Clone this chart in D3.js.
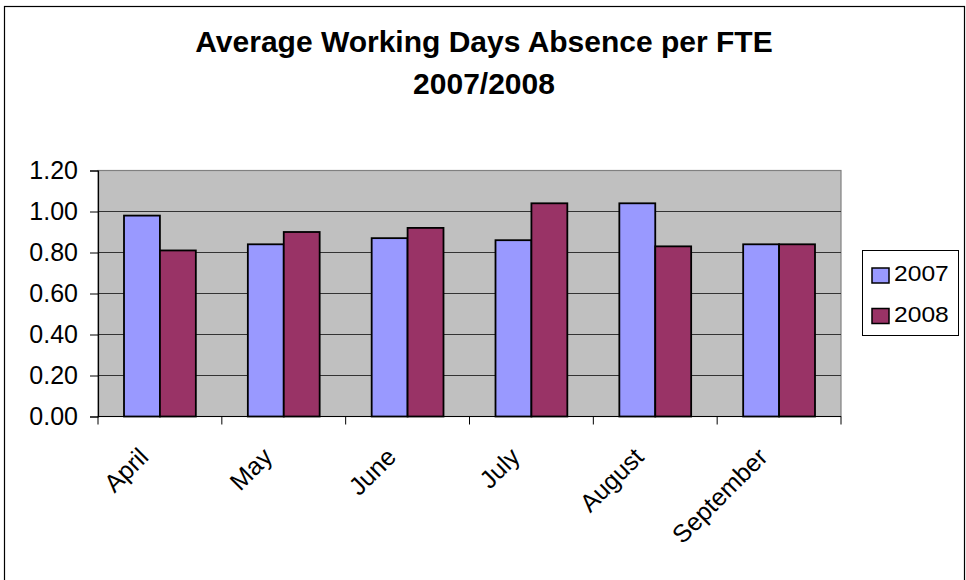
<!DOCTYPE html>
<html>
<head>
<meta charset="utf-8">
<script src="https://cdn.jsdelivr.net/npm/d3@7"></script>
<style>
  body { margin: 0; background: #fff; }
  svg text { font-family: Arial, "Liberation Sans", sans-serif; fill: #000; }
</style>
</head>
<body>
<div id="chart"></div>
<script>
// Data
const months = ['April', 'May', 'June', 'July', 'August', 'September'];
const years = ['2007', '2008'];
const values2007 = [0.98, 0.84, 0.87, 0.86, 1.04, 0.84];
const values2008 = [0.81, 0.90, 0.92, 1.04, 0.83, 0.84];
const yTicks = [0, 0.2, 0.4, 0.6, 0.8, 1.0, 1.2];

const colors = {'2007': '#9999ff', '2008': '#993366'};

const W = 966, H = 580;
const plot = {left: 98, right: 841, top: 170.5, bottom: 416.5};

const svg = d3.select('#chart').append('svg')
    .attr('width', W)
    .attr('height', H);

// Outer chart border
svg.append('rect')
    .attr('x', 4.5).attr('y', 6.5)
    .attr('width', 960).attr('height', 600)
    .attr('fill', '#fff')
    .attr('stroke', '#000')
    .attr('stroke-width', 1.2);

// Title
const title = svg.append('text')
    .attr('text-anchor', 'middle')
    .attr('font-weight', 'bold')
    .attr('font-size', 30);
title.append('tspan').attr('x', 484).attr('y', 52).text('Average Working Days Absence per FTE');
title.append('tspan').attr('x', 484).attr('y', 94).text('2007/2008');

const x0 = d3.scaleBand()
    .domain(months)
    .range([plot.left, plot.right]);

const x1 = d3.scaleBand()
    .domain(years)
    .range([x0.bandwidth() * 0.21, x0.bandwidth() * 0.79]);

const y = d3.scaleLinear()
    .domain([0, 1.2])
    .range([plot.bottom, plot.top]);

// Plot area
svg.append('rect')
    .attr('x', plot.left).attr('y', plot.top)
    .attr('width', plot.right - plot.left)
    .attr('height', plot.bottom - plot.top)
    .attr('fill', '#c0c0c0')
    .attr('stroke', '#808080')
    .attr('stroke-width', 1.2);

// Gridlines
svg.append('g')
  .selectAll('line')
  .data(yTicks.slice(1, -1))
  .join('line')
    .attr('x1', plot.left).attr('x2', plot.right)
    .attr('y1', d => y(d)).attr('y2', d => y(d))
    .attr('stroke', '#333')
    .attr('stroke-width', 1.2);

// Bars
const series = [values2007, values2008];
const groups = svg.append('g')
  .selectAll('g')
  .data(months)
  .join('g')
    .attr('transform', d => `translate(${x0(d)},0)`);

groups.selectAll('rect')
  .data((m, i) => years.map((yr, j) => ({year: yr, value: series[j][i]})))
  .join('rect')
    .attr('x', d => x1(d.year))
    .attr('width', x1.bandwidth())
    .attr('y', d => y(d.value))
    .attr('height', d => y(0) - y(d.value))
    .attr('fill', d => colors[d.year])
    .attr('stroke', '#000')
    .attr('stroke-width', 1.8);

// Y axis
const yAxis = svg.append('g')
    .attr('transform', `translate(${plot.left},0)`)
    .call(d3.axisLeft(y)
        .tickValues(yTicks)
        .tickFormat(d3.format('.2f'))
        .tickSize(8)
        .tickPadding(12));
yAxis.select('.domain').attr('stroke', '#000').attr('stroke-width', 1.2);
yAxis.selectAll('.tick line').attr('stroke', '#000');
yAxis.selectAll('text')
    .attr('font-size', 25)
    .attr('font-family', 'Arial, "Liberation Sans", sans-serif');

// X axis: baseline and ticks at band edges
const xAxis = svg.append('g');
xAxis.append('line')
    .attr('x1', plot.left).attr('x2', plot.right)
    .attr('y1', plot.bottom).attr('y2', plot.bottom)
    .attr('stroke', '#000')
    .attr('stroke-width', 1.2);
const edges = months.map(m => x0(m)).concat([plot.right]);
xAxis.selectAll('line.tick')
  .data(edges)
  .join('line')
    .attr('class', 'tick')
    .attr('x1', d => d).attr('x2', d => d)
    .attr('y1', plot.bottom).attr('y2', plot.bottom + 8)
    .attr('stroke', '#000');

xAxis.selectAll('text')
  .data(months)
  .join('text')
    .attr('transform', d => `translate(${x0(d) + x0.bandwidth() / 2 - 10},${plot.bottom + 42}) rotate(-45)`)
    .attr('text-anchor', 'end')
    .attr('font-size', 25)
    .text(d => d);

// Legend
const legend = svg.append('g');
legend.append('rect')
    .attr('x', 862.5).attr('y', 250.5)
    .attr('width', 96).attr('height', 85)
    .attr('fill', '#fff')
    .attr('stroke', '#000')
    .attr('stroke-width', 1);
const item = legend.selectAll('g')
  .data(years)
  .join('g')
    .attr('transform', (d, i) => `translate(872,${268 + i * 40.5})`);
item.append('rect')
    .attr('width', 17).attr('height', 15)
    .attr('fill', d => colors[d])
    .attr('stroke', '#000')
    .attr('stroke-width', 1.5);
item.append('text')
    .attr('transform', 'translate(22,13) scale(1.12,1)')
    .attr('font-size', 22)
    .text(d => d);
</script>
</body>
</html>
